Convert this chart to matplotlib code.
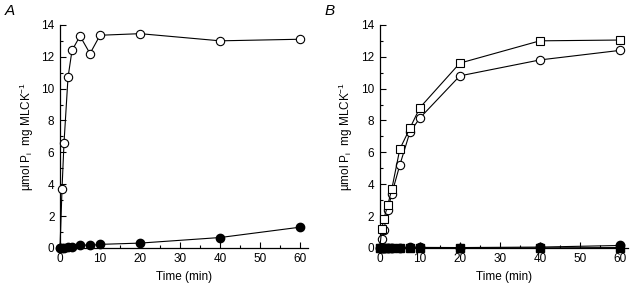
import matplotlib
matplotlib.use('Agg')
import matplotlib.pyplot as plt
from matplotlib.ticker import MultipleLocator

plt.rcParams['font.family'] = ['Liberation Sans', 'DejaVu Sans']
plt.rcParams['mathtext.fontset'] = 'custom'
plt.rcParams['mathtext.rm'] = 'Liberation Sans'
plt.rcParams['mathtext.it'] = 'Liberation Sans:italic'

# --- data ---
time = [0, 0.5, 1, 2, 3, 5, 7.5, 10, 20, 40, 60]

# panel A
a_open = [0, 3.7, 6.6, 10.7, 12.4, 13.3, 12.2, 13.35, 13.45, 13.0, 13.1]
a_filled = [0, 0.0, 0.02, 0.03, 0.05, 0.2, 0.15, 0.22, 0.3, 0.65, 1.3]

# panel B
b_square = [0, 1.2, 1.8, 2.7, 3.7, 6.2, 7.5, 8.8, 11.6, 13.0, 13.05]
b_circle = [0, 0.55, 1.1, 2.4, 3.4, 5.2, 7.25, 8.15, 10.8, 11.8, 12.4]
b_filled_circle = [0, 0, 0, 0, 0, 0.02, 0.05, 0.03, 0.02, 0.05, 0.15]
b_filled_square = [0, 0, 0, 0, 0, 0, 0.0, 0.0, 0.0, 0.0, 0.02]

ylabel = 'µmol P$_\\mathregular{i}$  mg MLCK$^\\mathregular{-1}$'

fig = plt.figure(figsize=(6.33, 2.93), dpi=100)
axA = fig.add_axes([0.0948, 0.154, 0.392, 0.761])
axB = fig.add_axes([0.600, 0.154, 0.392, 0.761])

ms = 6
lw = 0.8
fs = 8.5

def style(ax):
    ax.set_xlim(0, 62)
    ax.set_ylim(0, 14)
    ax.spines['top'].set_visible(False)
    ax.spines['right'].set_visible(False)
    ax.spines['left'].set_linewidth(0.9)
    ax.spines['bottom'].set_linewidth(0.9)
    ax.xaxis.set_major_locator(MultipleLocator(10))
    ax.xaxis.set_minor_locator(MultipleLocator(5))
    ax.yaxis.set_major_locator(MultipleLocator(2))
    ax.yaxis.set_minor_locator(MultipleLocator(1))
    ax.tick_params(which='both', direction='in', labelsize=fs, width=0.8)
    ax.tick_params(which='major', length=4, pad=4)
    ax.tick_params(which='minor', length=2.5)
    ax.set_xlabel('Time (min)', fontsize=fs, labelpad=4)
    ax.set_ylabel(ylabel, fontsize=fs, labelpad=4)

# panel A
axA.plot(time, a_open, '-o', color='black', mfc='white', mec='black',
         ms=ms, lw=lw, mew=0.8, clip_on=False, zorder=3)
axA.plot(time, a_filled, '-o', color='black', mfc='black', mec='black',
         ms=ms, lw=lw, clip_on=False, zorder=4)
style(axA)

# panel B
axB.plot(time, b_circle, '-o', color='black', mfc='white', mec='black',
         ms=ms, lw=lw, mew=0.8, clip_on=False, zorder=3)
axB.plot(time, b_square, '-s', color='black', mfc='white', mec='black',
         ms=ms - 0.5, lw=lw, mew=0.8, clip_on=False, zorder=4)
axB.plot(time, b_filled_square, '-s', color='black', mfc='black', mec='black',
         ms=ms - 0.5, lw=lw, clip_on=False, zorder=5)
axB.plot(time, b_filled_circle, '-o', color='black', mfc='black', mec='black',
         ms=ms, lw=lw, clip_on=False, zorder=6)
style(axB)

fig.text(0.008, 0.962, 'A', fontsize=11, style='italic', ha='left', va='center')
fig.text(0.513, 0.962, 'B', fontsize=11, style='italic', ha='left', va='center')

fig.savefig('out.png', dpi=100)
